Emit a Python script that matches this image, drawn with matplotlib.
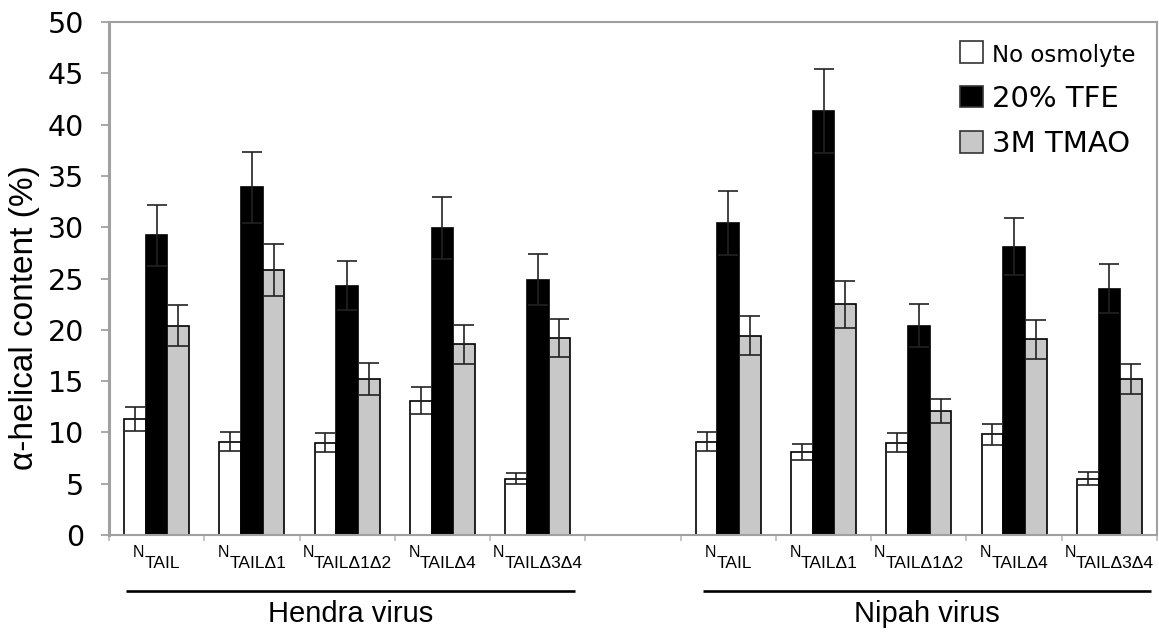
import matplotlib
matplotlib.use("Agg")
import matplotlib.pyplot as plt
from matplotlib.patches import Patch
import numpy as np

# ---------------- data ----------------
categories = ["TAIL", "TAILΔ1", "TAILΔ1Δ2", "TAILΔ4", "TAILΔ3Δ4"]
groups = ["Hendra virus", "Nipah virus"]
series = ["No osmolyte", "20% TFE", "3M TMAO"]

hendra_none = [11.3, 9.1, 9.0, 13.1, 5.5]
hendra_none_err = [1.2, 0.9, 0.95, 1.3, 0.55]
hendra_tfe = [29.2, 33.9, 24.3, 29.9, 24.9]
hendra_tfe_err = [3.0, 3.45, 2.4, 3.0, 2.5]
hendra_tmao = [20.4, 25.8, 15.2, 18.6, 19.2]
hendra_tmao_err = [2.0, 2.55, 1.55, 1.9, 1.85]

nipah_none = [9.1, 8.1, 9.0, 9.8, 5.5]
nipah_none_err = [0.9, 0.8, 0.95, 1.0, 0.6]
nipah_tfe = [30.4, 41.3, 20.4, 28.1, 24.0]
nipah_tfe_err = [3.1, 4.1, 2.1, 2.8, 2.4]
nipah_tmao = [19.4, 22.5, 12.1, 19.1, 15.2]
nipah_tmao_err = [1.9, 2.3, 1.2, 1.9, 1.45]

yticks = [0, 5, 10, 15, 20, 25, 30, 35, 40, 45, 50]

# ---------------- figure ----------------
W, H = 1159, 632
fig = plt.figure(figsize=(W / 100, H / 100), dpi=100)
ax = fig.add_axes([109 / W, 1 - 535 / H, (1157 - 109) / W, (535 - 22) / H])

nslots = 2 * len(categories) + 1
hendra_x = np.arange(len(categories)) + 0.5
nipah_x = np.arange(len(categories)) + len(categories) + 1.5
bw = 0.228
colors = ["white", "black", "#c8c8c8"]

vals = [
    (hendra_none, hendra_none_err, nipah_none, nipah_none_err),
    (hendra_tfe, hendra_tfe_err, nipah_tfe, nipah_tfe_err),
    (hendra_tmao, hendra_tmao_err, nipah_tmao, nipah_tmao_err),
]
ekw = dict(ecolor="#222222", elinewidth=1.2, capthick=1.2, capsize=7)
for k, (hv, he, nv, ne) in enumerate(vals):
    off = (k - 1) * bw
    x = np.concatenate([hendra_x, nipah_x]) + off
    y = list(hv) + list(nv)
    e = list(he) + list(ne)
    ax.bar(x, y, width=bw, color=colors[k], edgecolor="black", linewidth=1.2,
           yerr=e, error_kw=ekw, zorder=2)

ax.set_xlim(0, nslots)
ax.set_ylim(0, 50)
ax.set_yticks(yticks)
ax.set_xticks(np.arange(nslots + 1))
ax.set_xticklabels([])
ax.tick_params(axis="y", direction="out", length=6, width=1.2, color="#999999",
               labelsize=20.5, pad=12)
ax.tick_params(axis="x", direction="out", length=4.5, width=1.2, color="#bbbbbb")
for lab in ax.get_yticklabels():
    lab.set_family("DejaVu Sans")
for s in ax.spines.values():
    s.set_color("#a0a0a0")
    s.set_linewidth(1.5)
ax.spines["left"].set_linewidth(2.2)

# legend
handles = [Patch(facecolor=c, edgecolor="#333333", linewidth=1.2) for c in colors]
leg = ax.legend(handles, series, loc="upper left",
                bbox_to_anchor=(960 / W, 1 - 41 / H), bbox_transform=fig.transFigure,
                frameon=False, borderpad=0, borderaxespad=0,
                handlelength=0.78, handleheight=0.78,
                handletextpad=0.3, labelspacing=0.6,
                prop={"family": "DejaVu Sans", "size": 21})
leg.get_texts()[0].set_fontsize(16.5)

# y label
fig.text(25 / W, 1 - 318 / H, "α-helical content (%)", rotation=90,
         ha="center", va="center", fontsize=24, family="Liberation Sans")

# group lines and labels
xt = ax.get_xaxis_transform()
line_y = (535 - 591) / 513
lab_y = (535 - 622) / 513
group_spans = [(0.18, 4.89), (6.23, 10.94)]
for (x0, x1), g in zip(group_spans, groups):
    ax.plot([x0, x1], [line_y, line_y], color="black", linewidth=1.9,
            transform=xt, clip_on=False, solid_capstyle="butt")
    ax.text((x0 + x1) / 2, lab_y, g, transform=xt, ha="center", va="baseline",
            fontsize=21, family="Liberation Sans")

# category labels N + subscript
fig.canvas.draw()
r = fig.canvas.get_renderer()
for xc_arr in (hendra_x, nipah_x):
    for xc, sub in zip(xc_arr, categories):
        tn = fig.text(0, 0, "N", fontsize=11.5, family="Liberation Sans", va="baseline")
        ts = fig.text(0, 0, sub, fontsize=12.5, family="Liberation Sans", va="baseline")
        wn = tn.get_window_extent(r).width
        ws = ts.get_window_extent(r).width
        xpix = ax.transData.transform((xc, 0))[0]
        left = xpix - (wn + ws) / 2
        tn.set_position((left / W, 1 - 557 / H))
        ts.set_position(((left + wn) / W, 1 - 568 / H))

fig.savefig("out.png", dpi=100)
